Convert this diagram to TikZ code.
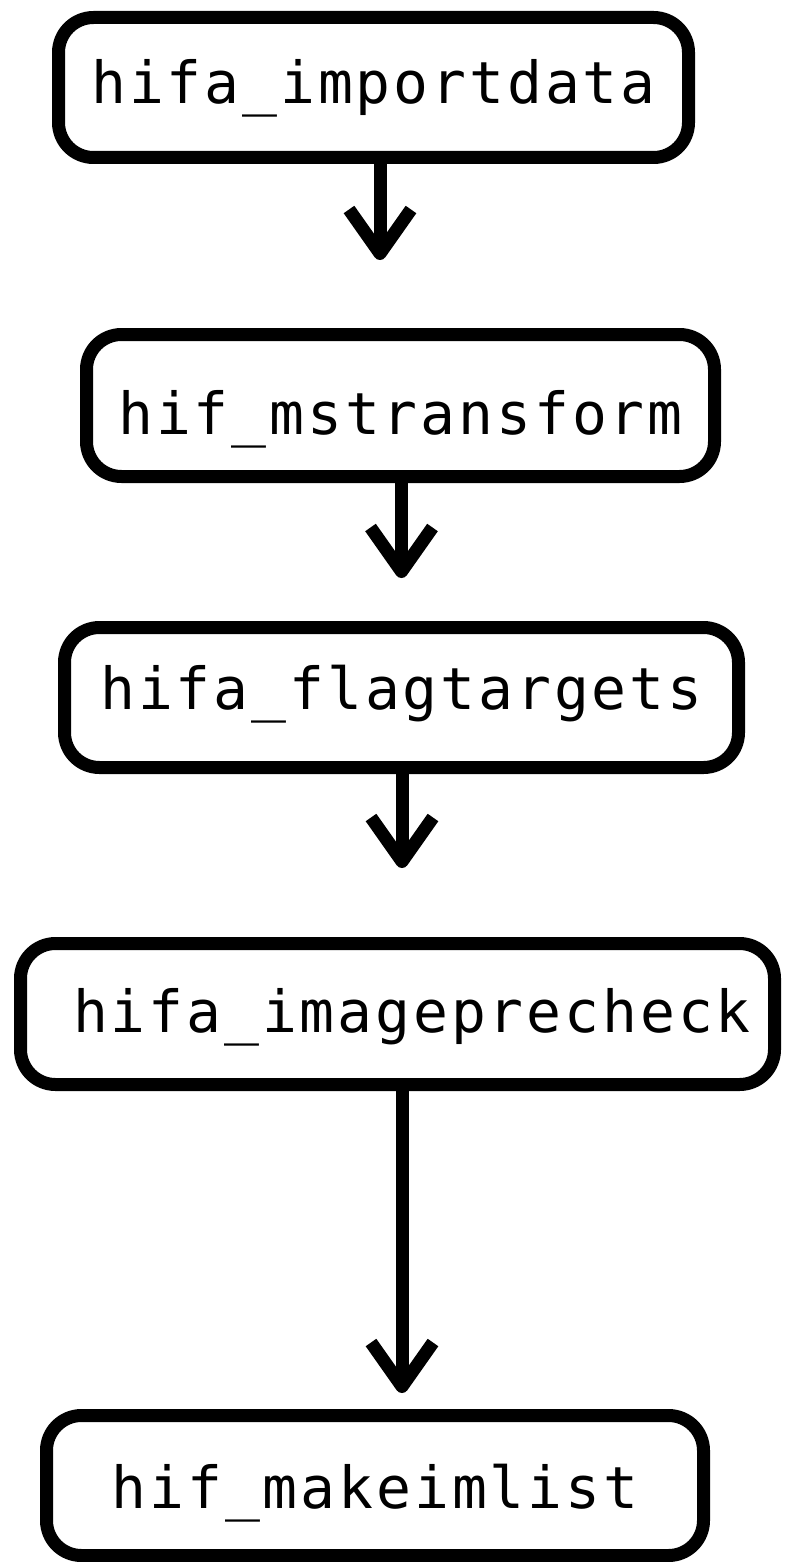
\documentclass[tikz,border=0pt]{standalone}
\usepackage{fontspec}
\newfontfamily\stagefont[LetterSpace=5.0]{DejaVu Sans Mono}
\usetikzlibrary{arrows.meta}

\tikzset{
  stagebox/.style={draw=black, line width=13pt, rounded corners=35pt,
    fill=white, inner sep=0pt, text depth=0pt,
    font=\stagefont\fontsize{58}{60}\selectfont},
  flow/.style={draw=black, line width=13pt,
    -{Straight Barb[length=44pt, width=62pt, line join=round, line cap=butt]}}
}

\begin{document}
\begin{tikzpicture}[x=1pt, y=-1pt]
  \useasboundingbox (0,0) rectangle (784,1562);

  % pipeline stages
  \node[stagebox, minimum width=630pt, minimum height=140pt, text height=33pt]
    (importdata) at (373.5,87.5) {hifa\_importdata};
  \node[stagebox, minimum width=628pt, minimum height=142pt, text height=57pt]
    (mstransform) at (400.5,405.5) {hif\_mstransform};
  \node[stagebox, minimum width=674pt, minimum height=140pt, text height=23pt]
    (flagtargets) at (401.5,697.5) {hifa\_flagtargets};
  \node[stagebox, minimum width=754pt, minimum height=141pt, text height=36pt]
    (imageprecheck) at (397.5,1014) {\hspace*{29pt}hifa\_imageprecheck};
  \node[stagebox, minimum width=657pt, minimum height=140pt, text height=45pt]
    (makeimlist) at (375,1485.5) {hif\_makeimlist};

  % arrow tips below each stage
  \coordinate (tipA) at (380,260);
  \coordinate (tipB) at (401.5,578);
  \coordinate (tipC) at (402,868);
  \coordinate (tipD) at (402,1393);

  \draw[flow] (importdata.south -| tipA) -- (tipA);
  \draw[flow] (mstransform.south -| tipB) -- (tipB);
  \draw[flow] (flagtargets.south -| tipC) -- (tipC);
  \draw[flow] (imageprecheck.south -| tipD) -- (tipD);
\end{tikzpicture}
\end{document}
